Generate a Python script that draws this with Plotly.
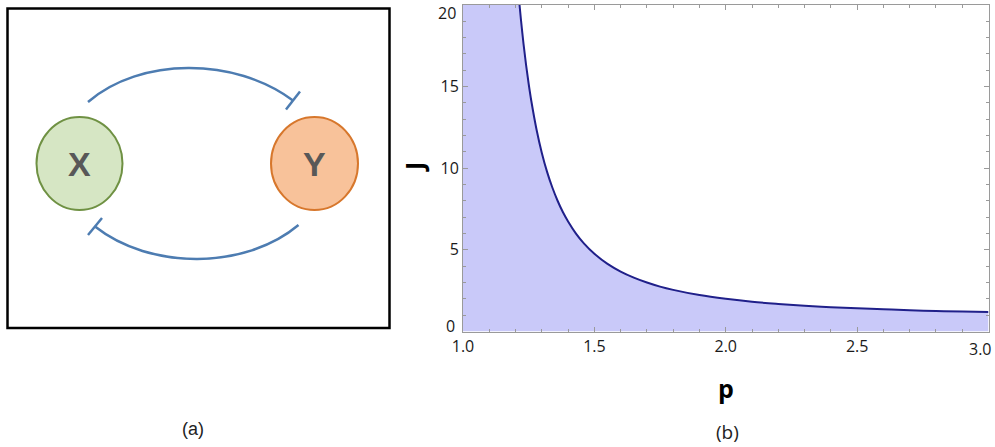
import plotly.graph_objects as go

# ---- data ----
p_vals = [1.215, 1.22, 1.23, 1.24, 1.25, 1.26, 1.28, 1.30, 1.32, 1.34, 1.36, 1.38,
          1.40, 1.43, 1.46, 1.50, 1.55, 1.60, 1.65, 1.70, 1.75, 1.80, 1.90, 2.00,
          2.10, 2.20, 2.30, 2.40, 2.50, 2.60, 2.70, 2.80, 2.90, 3.00]
J_vals = [20.03, 19.18, 17.67, 16.33, 15.16, 14.12, 12.36, 10.94, 9.78, 8.82, 8.01, 7.32,
          6.74, 6.00, 5.40, 4.76, 4.14, 3.67, 3.30, 3.00, 2.75, 2.55, 2.23, 2.00,
          1.82, 1.69, 1.58, 1.49, 1.42, 1.36, 1.30, 1.26, 1.22, 1.19]
x_ticks = [1.0, 1.5, 2.0, 2.5]
x_ticktext = ["1.0", "1.5", "2.0", "2.5"]
y_ticks = [5, 10, 15]
y_ticktext = ["5", "10", "15"]
p_range = [1.0, 3.0]
J_range = [0, 20]

W, H = 995, 447


def px(x):
    return x / W


def py(y):
    return 1 - y / H


FILL = "#c9c9f9"
LINE = "#20208a"
AXC = "#9a9a9a"
BLUE = "#4d7cb1"
TICKFONT = dict(family="Open Sans", size=16, color="#1a1a1a")

fig = go.Figure()
fig.add_trace(go.Scatter(
    x=[p_range[0]] + p_vals, y=[J_range[1]] + J_vals,
    mode="lines", line=dict(width=0, color=FILL), fill="tozeroy",
    fillcolor=FILL, hoverinfo="skip", showlegend=False))
fig.add_trace(go.Scatter(
    x=p_vals, y=J_vals, mode="lines", line=dict(color=LINE, width=2, shape="spline"),
    showlegend=False))

axis_common = dict(
    showgrid=False, zeroline=False, showline=True, linecolor=AXC, linewidth=1,
    mirror="ticks", ticks="inside", ticklen=5, tickcolor=AXC, tickwidth=1,
    tickfont=TICKFONT, automargin=False,
)
fig.update_xaxes(
    domain=[px(463), px(988.5)], range=p_range, tickmode="array",
    tickvals=x_ticks, ticktext=x_ticktext,
    minor=dict(dtick=0.1, ticks="inside", ticklen=3, tickcolor=AXC),
    **axis_common)
fig.update_yaxes(
    domain=[py(331.5), py(5)], range=J_range, tickmode="array",
    tickvals=y_ticks, ticktext=y_ticktext,
    minor=dict(dtick=1, ticks="inside", ticklen=3, tickcolor=AXC),
    **axis_common)

shapes = []
# frame of panel (a)
shapes.append(dict(type="rect", xref="paper", yref="paper",
                   x0=px(7.5), y0=py(328), x1=px(389.5), y1=py(8.5),
                   line=dict(color="black", width=2.5)))
# nodes
shapes.append(dict(type="circle", xref="paper", yref="paper",
                   x0=px(36.5), y0=py(210), x1=px(122.5), y1=py(117),
                   fillcolor="#d6e6c4", line=dict(color="#6f9143", width=2)))
shapes.append(dict(type="circle", xref="paper", yref="paper",
                   x0=px(271), y0=py(210), x1=px(358), y1=py(117),
                   fillcolor="#f8c29a", line=dict(color="#d7772c", width=2)))


def path_c(p0, c1, c2, p1):
    return "M {} {} C {} {}, {} {}, {} {}".format(
        px(p0[0]), py(p0[1]), px(c1[0]), py(c1[1]),
        px(c2[0]), py(c2[1]), px(p1[0]), py(p1[1]))


def path_l(a, b):
    return "M {} {} L {} {}".format(px(a[0]), py(a[1]), px(b[0]), py(b[1]))


arc_line = dict(color=BLUE, width=2.5)
shapes.append(dict(type="path", xref="paper", yref="paper",
                   path=path_c((88, 102), (140, 57), (235, 57), (293, 100.5)), line=arc_line))
shapes.append(dict(type="path", xref="paper", yref="paper",
                   path=path_l((300, 91.5), (286, 109.5)), line=arc_line))
shapes.append(dict(type="path", xref="paper", yref="paper",
                   path=path_c((298.5, 225), (245, 270), (150, 270), (95, 226.5)), line=arc_line))
shapes.append(dict(type="path", xref="paper", yref="paper",
                   path=path_l((102, 218), (88, 235)), line=arc_line))


def note(x, y, text, font, xanchor="center", angle=0):
    return dict(x=px(x), y=py(y), text=text, showarrow=False, xref="paper", yref="paper",
                xanchor=xanchor, yanchor="middle", textangle=angle, font=font)


annotations = [
    note(79.5, 164, "<b>X</b>", dict(family="Liberation Sans", size=34, color="#585858")),
    note(314.5, 164, "<b>Y</b>", dict(family="Liberation Sans", size=34, color="#585858")),
    note(193, 429, "(a)", dict(family="Liberation Sans", size=18, color="#222")),
    note(727, 432, "(b)", dict(family="Open Sans", size=19, color="#222")),
    note(726, 388, "<b>p</b>", dict(family="Open Sans", size=25, color="black")),
    note(414, 167, "<b>J</b>", dict(family="Open Sans", size=25, color="black"), angle=-90),
    note(458, 13, "20", TICKFONT, xanchor="right"),
    note(457, 326, "0", TICKFONT, xanchor="right"),
    note(980, 349, "3.0", TICKFONT),
]

fig.update_layout(
    width=W, height=H, margin=dict(l=0, r=0, t=0, b=0, autoexpand=False),
    paper_bgcolor="white", plot_bgcolor="white",
    shapes=shapes, annotations=annotations, showlegend=False,
)

fig.write_html("out.html", config={"displayModeBar": False},
               post_script="document.body.style.margin='0';document.body.style.padding='0';")
